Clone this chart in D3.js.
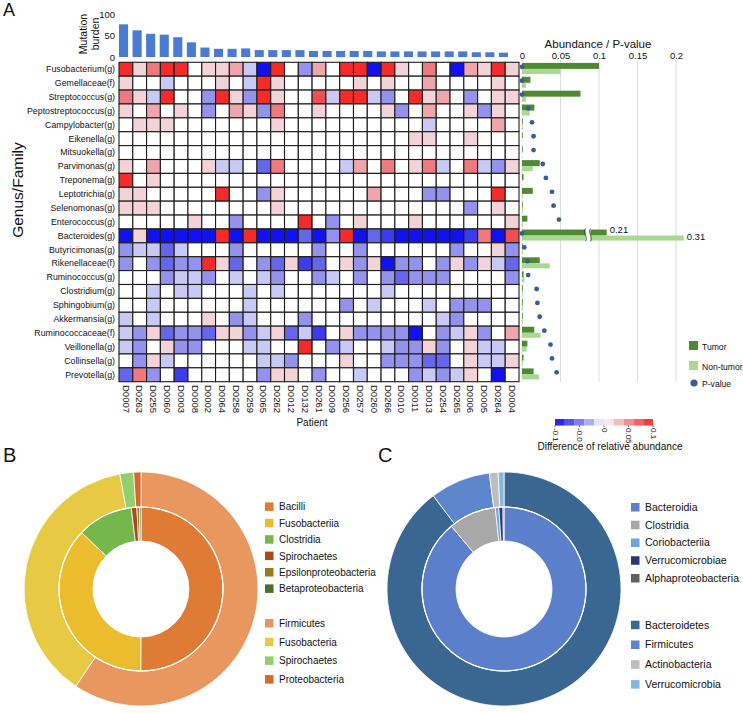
<!DOCTYPE html>
<html><head><meta charset="utf-8">
<script src="https://cdn.jsdelivr.net/npm/d3@7"></script>
<style>body{margin:0;background:#fff}svg{display:block;font-family:"Liberation Sans",Arial,sans-serif}</style>
</head><body>
<svg id="chart" width="743" height="713"></svg>
<script>
// ---------------- DATA ----------------
const patients = ["D0007","D0263","D0255","D0060","D0003","D0008","D0002","D0064","D0258","D0259","D0065","D0262","D0012","D0132","D0261","D0009","D0256","D0257","D0260","D0266","D0010","D0011","D0013","D0254","D0265","D0006","D0005","D0264","D0004"];
const mutationBurden = [76,62,54,52,46,34,22,19,19,20,16,16,16,16,14,14,14,14,14,13,13,13,13,13,13,13,11,11,10];
const burdenTicks = [0,50,100];

const taxa = ["Fusobacterium(g)","Gemellaceae(f)","Streptococcus(g)","Peptostreptococcus(g)","Campylobacter(g)","Eikenella(g)","Mitsuokella(g)","Parvimonas(g)","Treponema(g)","Leptotrichia(g)","Selenomonas(g)","Enterococcus(g)","Bacteroides(g)","Butyricimonas(g)","Rikenellaceae(f)","Ruminococcus(g)","Clostridium(g)","Sphingobium(g)","Akkermansia(g)","Ruminococcaceae(f)","Veillonella(g)","Collinsella(g)","Prevotella(g)"];

// difference of relative abundance (tumor - non-tumor), rows = taxa, cols = patients
const diffValues = [
 [0.1,0.02,0.06,0.1,0.1,0,0.02,0.02,0.04,-0.02,-0.1,0.1,0,-0.04,0.04,0,0.1,0.1,-0.1,0.1,0.02,0,0.06,0,-0.1,0.04,0.02,0.1,0.02],
 [0.02,0,0,-0.02,0,0,0,0.02,0,-0.02,0.1,0.02,0,0,0,0,0,0.02,0,0.02,0,0,0.04,0,0,0,0,0.02,0],
 [0.06,0.02,-0.02,0.1,0,0,-0.04,0.1,0.02,-0.04,0.1,0.02,0,0,0.08,-0.02,0.1,0.1,-0.02,-0.04,0,0.1,0.02,0.04,0,-0.04,0,0.02,0.02],
 [0.02,0,0.04,0,0.02,0,-0.04,0,0.04,0.02,-0.04,0.06,0,0,0.02,0,0,0,0,0.02,-0.04,0,0.04,0,0,0.02,-0.04,0.02,0],
 [0,0.02,0.02,0.02,0,0,0,0,0,0,0,0.02,0,0,0,0,0,0,0,0,0,0,-0.02,0,0,0,0,0.04,0],
 [0,0,0,0,0,0,0,0,0,0,0,0,0,0,0,0,0,0,0,0,0,0.02,0.02,0,0,0.02,0,0,0],
 [0,0,0,0,0,0,0,0,0,0,0,0,0,0,0,0,0,0,0,0,0,0,0,0,0,0,0,0,0],
 [0.02,0,0.04,0,0,0,0.02,-0.02,-0.02,0,-0.06,0.06,0,0,0,0,-0.02,0.04,0,0.06,0,0.02,0.06,-0.02,0,0.06,-0.02,-0.04,0.02],
 [0.1,0,0.02,0,0,0,0,0,0,0,0,0,0,0,0,0,0,0,0,0,0,0,0,0,0,0,0,0,0],
 [0.02,0.02,0,0,0,0,0,0.1,0,0,-0.04,0.02,0,0,0,0,0,0,0.04,0,0,0,-0.04,-0.04,0,0,0,0.1,0],
 [0.02,0.02,0.02,0,0,0,0,0,0,0,0,0.02,0,0,0,0,0,0,0,0,0,0,0,0,0,-0.04,0,0.02,0],
 [0,0,0,0,0,0.02,0,0,-0.04,0,0,0,0,0.1,0,-0.04,0,0.02,0,0,0,0.02,0,0,0,0,0,0,0.02],
 [-0.1,0.02,-0.1,-0.1,-0.1,-0.1,-0.1,0.1,-0.1,0.1,-0.1,-0.1,-0.1,-0.06,-0.1,-0.04,0.1,-0.1,-0.06,-0.08,-0.1,-0.1,-0.1,-0.1,-0.1,-0.08,0.06,-0.1,0.08],
 [-0.04,-0.02,-0.02,-0.06,-0.02,0,0,0,-0.04,0,0,0,0,0,-0.04,0,0,-0.04,0,0,0,0,0,0,-0.04,0,0,0.02,-0.04],
 [-0.04,0,-0.04,-0.06,-0.04,-0.04,0.1,0.02,-0.06,0,-0.04,-0.06,0.02,-0.08,-0.06,0,0.02,-0.04,0.02,-0.1,-0.04,-0.04,0,-0.04,0.02,-0.04,0.02,-0.02,-0.06],
 [0,0,0,-0.04,-0.02,-0.02,-0.04,0,-0.02,0,-0.02,-0.04,0,0,-0.04,-0.02,0,-0.04,0,-0.04,-0.06,-0.04,-0.04,-0.04,0,0,0,0,-0.04],
 [0,0,-0.02,0,-0.02,-0.02,0,0,0,-0.02,0,-0.02,0,0,0,0,0,0,0,-0.02,0,0,0,0,0,0,0,0,0],
 [0,0,-0.02,0,0,0,0,0,0,-0.02,0,0,0,0,0,0,-0.04,0,-0.02,0,0,0,-0.02,0,-0.04,-0.04,-0.04,0,0],
 [-0.02,0,-0.02,0,0,0,0.02,0,-0.04,-0.02,0,0,0,-0.04,0,0,0,0,0,0,0,0,0,-0.02,-0.04,0,0,0,0],
 [-0.02,-0.04,0.02,-0.06,-0.04,-0.04,-0.06,0.02,0.02,-0.04,-0.02,0.02,-0.06,-0.02,-0.08,0,0.02,-0.04,-0.04,-0.04,-0.04,-0.1,0,-0.04,-0.02,0.02,-0.04,0,0.04],
 [-0.02,-0.04,0,0.02,-0.04,-0.04,0,0,0,-0.02,-0.02,0,0,0.1,0,-0.04,-0.02,0,0,-0.02,-0.04,-0.04,0.02,-0.04,0,0.02,-0.02,-0.02,0],
 [0,-0.04,0.02,-0.02,0,0,0,0,0,0,-0.02,-0.02,-0.04,0,0,0,0.02,0,0,-0.04,-0.04,-0.04,-0.06,-0.06,0,0.02,-0.02,-0.02,0.02],
 [-0.06,0.06,-0.04,0,-0.08,0,0,0,0,0,-0.04,0.02,0.02,0,-0.04,0,0,-0.02,0,0,0,-0.04,-0.02,-0.04,-0.02,0.02,0,-0.1,0]
];
const diffLevels = [-0.1,-0.08,-0.06,-0.04,-0.02,0,0.02,0.04,0.06,0.08,0.1];
const diffColors = ["#1212f0","#3c3cec","#6666ea","#9393ee","#c9c9f5","#ffffff","#f3d3d7","#eea6ab","#ec7a7e","#ef4f52","#f52a2a"];
const legendTicks = [-0.1,-0.05,0,0.05,0.1];
const legendTickLabels = ["-0.1","-0.0","0","0.05","0.1"];

// relative abundance and p-value per taxon
const tumorAbund    = [0.1,0.011,0.076,0.016,0.001,0.001,0.001,0.023,0.002,0.014,0.001,0.007,0.21,0.001,0.023,0.002,0.001,0.001,0.001,0.016,0.007,0.002,0.015];
const nonTumorAbund = [0.05,0.005,0.005,0.01,0.001,0,0,0.014,0,0.001,0.001,0.001,0.31,0.001,0.036,0.003,0.001,0.001,0.001,0.024,0.006,0.001,0.022];
const pValues       = [0,0,0,0.008,0.013,0.015,0.015,0.027,0.031,0.039,0.041,0.048,0,0.003,0.007,0.008,0.019,0.020,0.023,0.029,0.037,0.039,0.045];
const abundTicks = [0,0.05,0.1,0.15,0.2];

// Panel B
const bClassNames = ["Bacilli","Fusobacteriia","Clostridia","Spirochaetes","Epsilonproteobacteria","Betaproteobacteria"];
const bClassValues = [50,37,11,1.1,0.5,0.3];
const bClassColors = ["#e07b35","#ebbd2e","#76b74b","#a84b18","#9a7a1e","#4b6f2a"];
const bPhylumNames = ["Firmicutes","Fusobacteria","Spirochaetes","Proteobacteria"];
const bPhylumValues = [59.4,37.7,1.9,1.0];
const bPhylumColors = ["#e8975f","#e8c944","#93d06c","#d8682c"];
// Panel C
const cClassNames = ["Bacteroidia","Clostridia","Coriobacteriia","Verrucomicrobiae","Alphaproteobacteria"];
const cClassValues = [88.9,9.4,0.7,0.8,0.2];
const cClassColors = ["#5b7fcb","#a8a8a8","#6ea6dc","#25396b","#616161"];
const cPhylumNames = ["Bacteroidetes","Firmicutes","Actinobacteria","Verrucomicrobia"];
const cPhylumValues = [89.4,8.3,1.2,0.8];
const cPhylumColors = ["#3a6791","#5e86cc","#bdbdbd","#84b6e2"];

// ---------------- DRAW ----------------
const svg = d3.select("#chart");
const txt = (g, x, y, s, size, anchor, extra) => {
  const t = g.append("text").attr("x", x).attr("y", y).text(s)
    .attr("font-size", size).attr("text-anchor", anchor || "start").attr("fill", "#111");
  if (extra) extra(t);
  return t;
};

txt(svg, 3, 16, "A", 18);

// heatmap scales
const xBand = d3.scaleBand().domain(patients).range([119, 519]);
const yBand = d3.scaleBand().domain(taxa).range([62.3, 381.7]);
const color = d3.scaleLinear().domain(diffLevels).range(diffColors);

// top mutation-burden bars
const xTop = d3.scaleBand().domain(patients).range([119, 508]).paddingInner(0.33);
const yTop = d3.scaleLinear().domain([0, 100]).range([57, 14]);
svg.append("g").selectAll("rect").data(mutationBurden).join("rect")
  .attr("x", (d, i) => xTop(patients[i])).attr("width", xTop.bandwidth())
  .attr("y", d => yTop(d)).attr("height", d => yTop(0) - yTop(d))
  .attr("fill", "#4b7bd0");
const yAxTop = svg.append("g").attr("transform", "translate(116,0)")
  .call(d3.axisLeft(yTop).tickValues(burdenTicks).tickSize(0).tickPadding(1));
yAxTop.select(".domain").remove();
yAxTop.selectAll("text").attr("font-size", 9.5).attr("font-family", "Liberation Sans, Arial").attr("fill", "#111");
txt(svg, 0, 0, "Mutation", 10.5, "middle", t => t.attr("transform", "translate(87,34) rotate(-90)"));
txt(svg, 0, 0, "burden", 10.5, "middle", t => t.attr("transform", "translate(99,34) rotate(-90)"));

// heatmap cells
const cells = [];
diffValues.forEach((row, i) => row.forEach((v, j) => cells.push({ taxon: taxa[i], patient: patients[j], v })));
svg.append("g").selectAll("rect").data(cells).join("rect")
  .attr("x", d => xBand(d.patient)).attr("y", d => yBand(d.taxon))
  .attr("width", xBand.bandwidth()).attr("height", yBand.bandwidth())
  .attr("fill", d => color(d.v)).attr("stroke", "#1c1c1c").attr("stroke-width", 1.1);

// row labels
const yAx = svg.append("g").attr("transform", "translate(117,0)")
  .call(d3.axisLeft(yBand).tickSize(0).tickPadding(2));
yAx.select(".domain").remove();
yAx.selectAll("text").attr("font-size", 8.8).attr("font-family", "Liberation Sans, Arial").attr("fill", "#111");
txt(svg, 0, 0, "Genus/Family", 15.5, "middle", t => t.attr("transform", "translate(23,190) rotate(-90)"));

// patient labels
const xAx = svg.append("g").attr("transform", "translate(0,382)")
  .call(d3.axisBottom(xBand).tickSize(0).tickPadding(0));
xAx.select(".domain").remove();
xAx.selectAll("text").attr("font-size", 9.5).attr("font-family", "Liberation Sans, Arial").attr("fill", "#111")
  .attr("text-anchor", "start").attr("dy", "0.35em").attr("transform", "translate(0,3) rotate(90)")
  .attr("x", 0).attr("y", 0);
txt(svg, 312, 426, "Patient", 10, "middle");

// right abundance / p-value chart
const xR = d3.scaleLinear().domain([0, 0.2]).range([522, 676]);
const disp = v => v > 0.2 ? v - 0.1 : v;
const gR = svg.append("g");
gR.selectAll("line.grid").data(abundTicks).join("line")
  .attr("x1", d => xR(d)).attr("x2", d => xR(d)).attr("y1", 60).attr("y2", 382)
  .attr("stroke", d => d === 0 ? "#d8d8d8" : "#dedede").attr("stroke-width", 1)
  .attr("stroke-dasharray", d => d === 0 ? "2,2" : null);
const xAxR = gR.append("g").attr("transform", "translate(0,59)")
  .call(d3.axisTop(xR).tickValues(abundTicks).tickFormat(d => d === 0 ? "0" : String(d)).tickSize(0).tickPadding(0));
xAxR.select(".domain").remove();
xAxR.selectAll("text").attr("font-size", 9.5).attr("font-family", "Liberation Sans, Arial").attr("fill", "#111");
txt(svg, 598, 48, "Abundance / P-value", 11.5, "middle");

gR.selectAll("rect.t").data(tumorAbund).join("rect").attr("class", "t")
  .attr("x", xR(0)).attr("y", (d, i) => yBand(taxa[i]) + 0.6)
  .attr("width", d => xR(disp(d)) - xR(0)).attr("height", 6).attr("fill", "#4e8a31");
gR.selectAll("rect.n").data(nonTumorAbund).join("rect").attr("class", "n")
  .attr("x", xR(0)).attr("y", (d, i) => yBand(taxa[i]) + 6.6)
  .attr("width", d => xR(disp(d)) - xR(0)).attr("height", 5).attr("fill", "#a9d88f");

// axis break for values over 0.2
taxa.forEach((t, i) => {
  const big = [tumorAbund[i], nonTumorAbund[i]];
  if (big.some(v => v > 0.2)) {
    const y0 = yBand(t), bx = xR(0.085);
    gR.append("rect").attr("x", bx - 2).attr("y", y0).attr("width", 5).attr("height", 12).attr("fill", "#fff");
    [bx - 2, bx + 3].forEach(x => gR.append("path")
      .attr("d", `M${x},${y0 - 0.5} C${x - 3},${y0 + 3} ${x + 3},${y0 + 9} ${x},${y0 + 12.5}`)
      .attr("fill", "none").attr("stroke", "#333").attr("stroke-width", 0.8));
    txt(gR, xR(disp(tumorAbund[i])) + 3, y0 + 4.5, String(tumorAbund[i]), 9.5, "start");
    txt(gR, xR(disp(nonTumorAbund[i])) + 3, y0 + 11.5, String(nonTumorAbund[i]), 9.5, "start");
  }
});
gR.selectAll("circle.p").data(pValues).join("circle").attr("class", "p")
  .attr("cx", d => xR(d)).attr("cy", (d, i) => yBand(taxa[i]) + 4.5).attr("r", 2.4).attr("fill", "#3b5b98");

// legend for right chart
svg.append("rect").attr("x", 689).attr("y", 341).attr("width", 9).attr("height", 9).attr("fill", "#4e8a31");
txt(svg, 702, 349.5, "Tumor", 8.6);
svg.append("rect").attr("x", 689).attr("y", 361).attr("width", 9).attr("height", 9).attr("fill", "#a9d88f");
txt(svg, 702, 369.5, "Non-tumor", 8.6);
svg.append("circle").attr("cx", 694).attr("cy", 383).attr("r", 3.6).attr("fill", "#3b5b98");
txt(svg, 702, 386.5, "P-value", 8.6);

// colour legend
const xL = d3.scaleLinear().domain([-0.1, 0.1]).range([555, 653]);
const blocks = d3.range(10).map(k => -0.1 + 0.02 * k);
svg.append("g").selectAll("rect").data(blocks).join("rect")
  .attr("x", d => xL(d)).attr("width", xL(0.02) - xL(0)).attr("y", 419).attr("height", 6.5)
  .attr("fill", d => color(d + 0.01));
legendTicks.forEach((v, k) => {
  svg.append("line").attr("x1", xL(v)).attr("x2", xL(v)).attr("y1", 425.5).attr("y2", 427).attr("stroke", "#555");
  txt(svg, 0, 0, legendTickLabels[k], 8, "start", t => t.attr("transform", `translate(${xL(v) - 2.5},428) rotate(90)`));
});
txt(svg, 610, 450, "Difference of relative abundance", 10.1, "middle");

// ---------------- donuts ----------------
const pie = d3.pie().sort(null).value(d => d).startAngle(0).endAngle(2 * Math.PI);
function donut(cx, cy, inner, outer, letter, lx, legendX, legendClassY, legendPhylumY, fs) {
  const g = svg.append("g").attr("transform", `translate(${cx},${cy})`);
  const arcIn = d3.arc().innerRadius(48).outerRadius(82);
  const arcOut = d3.arc().innerRadius(82).outerRadius(117);
  g.selectAll("path.o").data(pie(outer.values)).join("path").attr("class", "o")
    .attr("d", arcOut).attr("fill", (d, i) => outer.colors[i]).attr("stroke", "#fff").attr("stroke-width", 0.8);
  g.selectAll("path.i").data(pie(inner.values)).join("path").attr("class", "i")
    .attr("d", arcIn).attr("fill", (d, i) => inner.colors[i]).attr("stroke", "#fff").attr("stroke-width", 0.8);
  g.append("circle").attr("r", 82).attr("fill", "none").attr("stroke", "#fff").attr("stroke-width", 1.2);
  txt(svg, lx, 462, letter, 20);
  inner.names.forEach((n, i) => {
    const y = legendClassY[0] + i * legendClassY[1];
    svg.append("rect").attr("x", legendX).attr("y", y - 4.3).attr("width", 8.5).attr("height", 8.5).attr("fill", inner.colors[i]);
    txt(svg, legendX + 14, y + 3.6, n, fs);
  });
  outer.names.forEach((n, i) => {
    const y = legendPhylumY[0] + i * legendPhylumY[1];
    svg.append("rect").attr("x", legendX).attr("y", y - 4.3).attr("width", 8.5).attr("height", 8.5).attr("fill", outer.colors[i]);
    txt(svg, legendX + 14, y + 3.6, n, fs);
  });
}
donut(141, 589, { names: bClassNames, values: bClassValues, colors: bClassColors },
  { names: bPhylumNames, values: bPhylumValues, colors: bPhylumColors }, "B", 3, 265, [506.7, 16.4], [623.3, 18.7], 10);
donut(504, 589, { names: cClassNames, values: cClassValues, colors: cClassColors },
  { names: cPhylumNames, values: cPhylumValues, colors: cPhylumColors }, "C", 378, 631, [507.3, 17.75], [625, 19.8], 10.5);
</script>
</body></html>
